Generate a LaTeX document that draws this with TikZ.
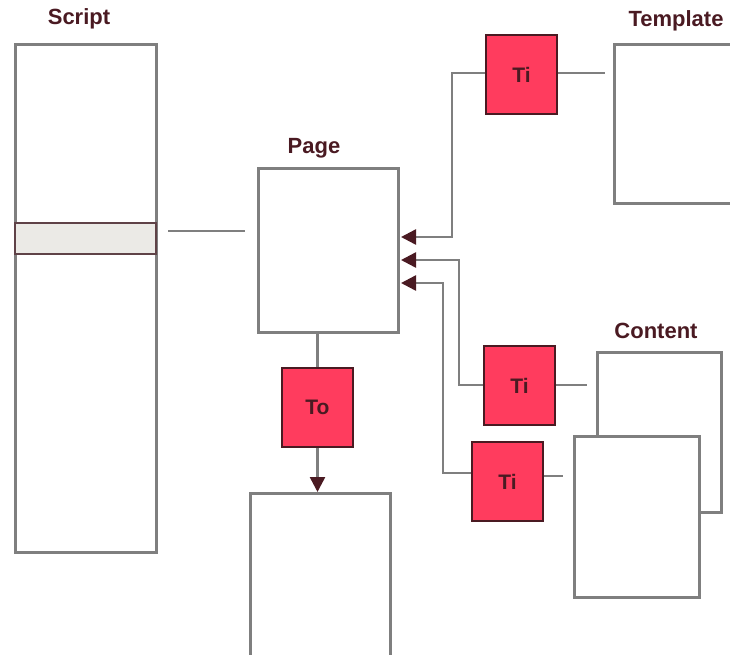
\documentclass[tikz,border=0pt]{standalone}
\usepackage{fontspec}
\setmainfont{Liberation Sans}
\usetikzlibrary{arrows.meta}
\definecolor{lineg}{HTML}{7F7F7F}
\definecolor{maroon}{HTML}{4A1A22}
\definecolor{tired}{HTML}{FF3C5E}
\definecolor{bandg}{HTML}{EBEAE6}
\tikzset{
  box/.style={draw=lineg, line width=2.5pt, fill=white, rectangle, anchor=north west, inner sep=0pt},
  tbox/.style={draw=maroon, line width=2.5pt, fill=tired, rectangle, inner sep=0pt,
    minimum width=71pt, minimum height=79pt, font=\bfseries\fontsize{21}{23}\selectfont, text=maroon},
  lbl/.style={font=\bfseries\fontsize{22}{24}\selectfont, text=maroon, inner sep=0pt},
  conn/.style={draw=lineg, line width=2.5pt},
  arr/.style={conn, -{Triangle[length=15pt,width=15pt,fill=maroon,color=maroon]}},
}
\begin{document}
\begin{tikzpicture}[x=1pt,y=-1pt]
\useasboundingbox (0,0) rectangle (730,654);
\clip (0,0) rectangle (730,654);
% Script
\node[lbl] (scriptl) at (79,19) {Script};
\node[box, minimum width=141pt, minimum height=508pt] (script) at (14,43) {};
\node[draw=maroon!60!lineg, line width=2pt, fill=bandg, rectangle, anchor=north west, inner sep=0pt,
  minimum width=141pt, minimum height=31pt] (band) at (14,222) {};
\coordinate (s1) at (168,231);
\coordinate (s2) at (245,231);
\draw[conn] (s1) -- (s2);
% Page
\node[lbl] (pagel) at (314,148) {Page};
\node[box, minimum width=140pt, minimum height=164pt] (page) at (257,167) {};
% Template
\node[lbl] (templl) at (676,21) {Template};
\node[box, minimum width=140pt, minimum height=159pt] (templ) at (613,43) {};
% Ti boxes
\node[tbox] (ti1) at (521.5,74.5) {Ti};
\node[tbox] (ti2) at (519.5,385.5) {Ti};
\node[tbox] (ti3) at (507.5,481.5) {Ti};
% Template connection
\coordinate (t1) at (605,73);
\draw[conn] (ti1.east |- t1) -- (t1);
\coordinate (a1) at (401,237);
\draw[arr] (ti1.west |- 0,73) -| (452,237) -- (a1);
% Content
\node[lbl] (contl) at (656,331) {Content};
\node[box, minimum width=124pt, minimum height=160pt] (cont2) at (596,351) {};
\node[box, minimum width=125pt, minimum height=161pt] (cont1) at (573,435) {};
\coordinate (c2) at (587,385);
\draw[conn] (ti2.east |- c2) -- (c2);
\coordinate (c3) at (563,476);
\draw[conn] (ti3.east |- c3) -- (c3);
\coordinate (a2) at (401,260);
\draw[arr] (ti2.west |- 0,385) -| (459,260) -- (a2);
\coordinate (a3) at (401,283);
\draw[arr] (ti3.west |- 0,473) -| (443,283) -- (a3);
% To
\node[tbox] (to) at (317.5,407.5) {To};
\draw[conn] (page.south -| to) -- (to.north);
\node[box, minimum width=140pt, minimum height=200pt] (bottom) at (249,492) {};
\draw[arr] (to.south) -- (to.south |- bottom.north);
\end{tikzpicture}
\end{document}
